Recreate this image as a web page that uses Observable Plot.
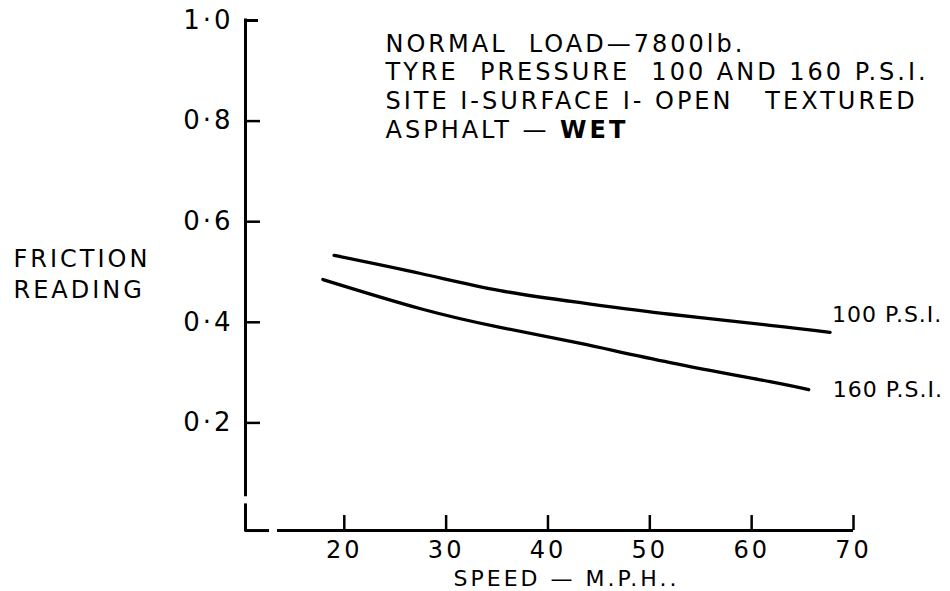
<!DOCTYPE html>
<html>
<head>
<meta charset="utf-8">
<script src="https://cdn.jsdelivr.net/npm/d3@7"></script>
<script src="https://cdn.jsdelivr.net/npm/@observablehq/plot@0.6"></script>
<style>
html, body { margin: 0; padding: 0; background: #fff; }
svg text { white-space: pre; }
</style>
</head>
<body>
<div id="chart"></div>
<script>
// ---- data ----
const series = ["100 P.S.I.", "160 P.S.I."];
const speed100 = [19.0, 27.5, 35.3, 43.2, 52.0, 61.8, 67.7];
const friction100 = [0.533, 0.497, 0.463, 0.439, 0.416, 0.394, 0.380];
const speed160 = [17.9, 27.5, 35.3, 43.2, 52.0, 61.8, 65.6];
const friction160 = [0.485, 0.427, 0.390, 0.358, 0.320, 0.282, 0.266];
const xTicks = [20, 30, 40, 50, 60, 70];
const xTickLabels = ["20", "30", "40", "50", "60", "70"];
const yTicks = [0.2, 0.4, 0.6, 0.8, 1.0];
const yTickLabels = ["0·2", "0·4", "0·6", "0·8", "1·0"];
const xTitle = "SPEED — M.P.H..";
const yTitle = ["FRICTION", "READING"];
const notes = [
  "NORMAL  LOAD—7800lb.",
  "TYRE  PRESSURE  100 AND 160 P.S.I.",
  "SITE I-SURFACE I- OPEN   TEXTURED",
  "ASPHALT — WET"
];

// ---- build table ----
const rows = [
  ...speed100.map((s, i) => ({pressure: series[0], speed: s, friction: friction100[i]})),
  ...speed160.map((s, i) => ({pressure: series[1], speed: s, friction: friction160[i]}))
];
const ends = series.map(p => rows.filter(r => r.pressure === p).at(-1));

const xMin = 10.3, xMax = 70;
const W = 950, H = 591, mL = 245, mR = 97, mT = 20, mB = 68;
const ux = (xMax - xMin) / (W - mL - mR);   // data units per pixel (x)
const uy = 1 / (H - mT - mB);               // data units per pixel (y)
const axisY0 = -0.014;

const chart = Plot.plot({
  width: W, height: H,
  marginLeft: mL, marginRight: mR, marginTop: mT, marginBottom: mB,
  x: {domain: [xMin, xMax], axis: null},
  y: {domain: [0, 1], axis: null},
  style: {fontFamily: "'DejaVu Sans', sans-serif", background: "#fff", color: "#000", overflow: "visible", letterSpacing: "3px"},
  marks: [
    // y axis (broken near bottom) and ticks
    Plot.ruleX([xMin], {y1: 0.056, y2: 1, stroke: "#000", strokeWidth: 3, strokeLinecap: "square"}),
    Plot.ruleY([1], {x1: xMin, x2: xMin + 13 * ux, stroke: "#000", strokeWidth: 3}),
    Plot.ruleY(yTicks.filter(d => d < 1), {x1: xMin, x2: xMin + 15 * ux, stroke: "#000", strokeWidth: 2.5}),
    // L corner
    Plot.ruleX([xMin], {y1: axisY0, y2: 0.036, stroke: "#000", strokeWidth: 3, strokeLinecap: "square"}),
    Plot.ruleY([axisY0], {x1: xMin, x2: xMin + 24 * ux, stroke: "#000", strokeWidth: 3}),
    // x axis and ticks
    Plot.ruleY([axisY0], {x1: xMin + 32 * ux, x2: xMax, stroke: "#000", strokeWidth: 3}),
    Plot.ruleX(xTicks, {y1: axisY0, y2: axisY0 + 15 * uy, stroke: "#000", strokeWidth: 2.5}),
    // tick labels
    Plot.text(yTicks, {x: xMin, y: d => d, text: (d, i) => yTickLabels[i], textAnchor: "end", dx: -12, fontSize: 26, fill: "#000"}),
    Plot.text(xTicks, {x: d => d, y: axisY0, text: (d, i) => xTickLabels[i], dy: 20, lineAnchor: "middle", fontSize: 24, fill: "#000"}),
    // axis titles
    Plot.text([xTitle], {frameAnchor: "bottom", dx: 17, dy: 55, lineAnchor: "middle", fontSize: 22, fill: "#000"}),
    Plot.text([yTitle.join("\n")], {frameAnchor: "left", dx: 13 - mL, dy: 1, lineAnchor: "middle", textAnchor: "start", lineHeight: 1.28, fontSize: 24, fill: "#000"}),
    // notes
    Plot.text([notes.join("\n")], {frameAnchor: "top-left", dx: 140, dy: 65, lineAnchor: "middle", textAnchor: "start", lineHeight: 1.2, fontSize: 24, fill: "#000"}),
    // curves
    Plot.line(rows, {x: "speed", y: "friction", z: "pressure", curve: "natural", stroke: "#000", strokeWidth: 3.3}),
    // series labels
    Plot.text([ends[0]], {x: "speed", y: "friction", text: "pressure", textAnchor: "start", dx: 2, dy: -17, fontSize: 22, fill: "#000"}),
    Plot.text([ends[1]], {x: "speed", y: "friction", text: "pressure", textAnchor: "start", dx: 24, dy: 0, fontSize: 22, fill: "#000"})
  ]
});
const svg = d3.select(chart);
// tighter letter spacing for the curve labels
svg.selectAll("text").filter(function () { return series.includes(this.textContent); })
  .style("letter-spacing", "1px");
// bold "WET" as in the reference
svg.selectAll("tspan").filter(function () { return this.textContent === notes[3]; })
  .each(function () {
    const t = d3.select(this);
    const parts = notes[3].split("WET");
    t.text(parts[0]);
    t.append("tspan").attr("font-weight", "bold").text("WET");
  });
document.getElementById("chart").appendChild(chart);
</script>
</body>
</html>
